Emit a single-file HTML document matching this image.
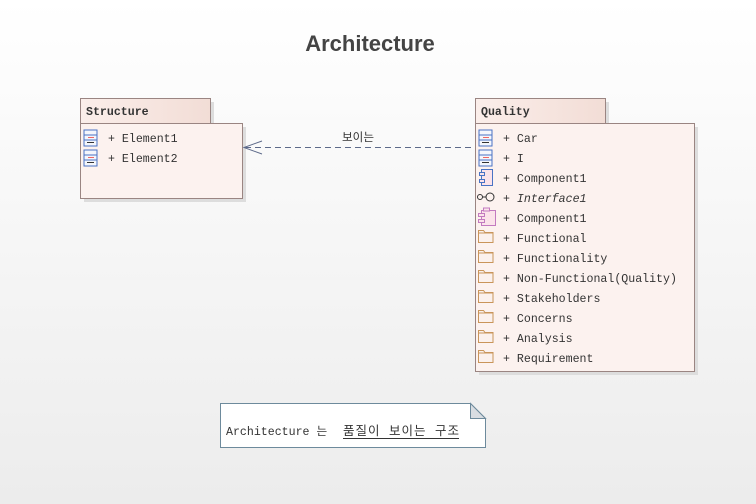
<!DOCTYPE html>
<html><head><meta charset="utf-8"><style>
html,body{margin:0;padding:0}
body{width:756px;height:504px;overflow:hidden}
svg{display:block}
text{font-family:"Liberation Mono","Noto Sans CJK KR",monospace;font-size:11.6px;fill:#333}
</style></head><body>
<svg width="756" height="504" xmlns="http://www.w3.org/2000/svg">
<defs>
<linearGradient id="bg" x1="0" y1="0" x2="0" y2="1"><stop offset="0" stop-color="#ffffff"/><stop offset="1" stop-color="#ececec"/></linearGradient>
<linearGradient id="tab" x1="0" y1="0" x2="1" y2="0"><stop offset="0" stop-color="#fbeeea"/><stop offset="1" stop-color="#f2ddd6"/></linearGradient>
<g id="cls"><rect x="0" y="0" width="13" height="16" fill="#f4f6fc" stroke="#4a73c4"/><line x1="0" y1="5" x2="13" y2="5" stroke="#4a73c4"/><line x1="0" y1="10" x2="13" y2="10" stroke="#4a73c4"/><line x1="4" y1="7.5" x2="10" y2="7.5" stroke="#e66"/><line x1="3" y1="12.5" x2="10" y2="12.5" stroke="#333"/></g>
<g id="fold"><path d="M0.5 2.5h5l1.5 2h8v10h-14.5z" fill="#fbf1ed" stroke="#c9955a"/><line x1="0.5" y1="5" x2="15" y2="5" stroke="#c9955a"/></g>
</defs>
<rect width="756" height="504" fill="url(#bg)"/>
<text x="370" y="51" text-anchor="middle" style="font-family:'Liberation Sans',sans-serif;font-size:22px;font-weight:bold;fill:#444">Architecture</text>

<!-- Structure -->
<rect x="84" y="102" width="130" height="25" fill="#ddd"/>
<rect x="84" y="127" width="162" height="75" fill="#ddd"/>
<rect x="80.5" y="98.5" width="130" height="25" fill="url(#tab)" stroke="#9a8582"/>
<rect x="80.5" y="123.5" width="162" height="75" fill="#fcf2ef" stroke="#9a8582"/>
<text x="86" y="115" style="font-weight:bold">Structure</text>
<use href="#cls" x="84" y="130"/><text x="108" y="142">+ Element1</text>
<use href="#cls" x="84" y="150"/><text x="108" y="162">+ Element2</text>

<!-- Quality -->
<rect x="479" y="102" width="130" height="25" fill="#ddd"/>
<rect x="479" y="127" width="219" height="248" fill="#ddd"/>
<rect x="475.5" y="98.5" width="130" height="25" fill="url(#tab)" stroke="#9a8582"/>
<rect x="475.5" y="123.5" width="219" height="248" fill="#fcf2ef" stroke="#9a8582"/>
<text x="481" y="115" style="font-weight:bold">Quality</text>
<use href="#cls" x="479" y="130"/><text x="503" y="142">+ Car</text>
<use href="#cls" x="479" y="150"/><text x="503" y="162">+ I</text>
<rect x="481.5" y="169.5" width="11" height="16" fill="#fbe3ea" stroke="#4a73c4"/><rect x="479.5" y="172.5" width="5" height="3" fill="#fbe3ea" stroke="#4a73c4"/><rect x="479.5" y="179.5" width="5" height="3" fill="#fbe3ea" stroke="#4a73c4"/>
<text x="503" y="182">+ Component1</text>
<circle cx="480" cy="197" r="2.5" fill="none" stroke="#333"/><line x1="482.5" y1="197" x2="486" y2="197" stroke="#333"/><circle cx="490" cy="197" r="4" fill="none" stroke="#333"/>
<text x="503" y="202" style="font-style:italic">+ Interface1</text>
<rect x="481.5" y="210.5" width="14" height="15" fill="#fbe3ea" stroke="#c27ac0"/><rect x="483.5" y="208" width="6" height="3" fill="#fbe3ea" stroke="#c27ac0"/><rect x="478.5" y="213.5" width="6" height="3" fill="#fbe3ea" stroke="#c27ac0"/><rect x="478.5" y="219.5" width="6" height="3" fill="#fbe3ea" stroke="#c27ac0"/>
<text x="503" y="222">+ Component1</text>
<use href="#fold" x="478" y="228"/><text x="503" y="242">+ Functional</text>
<use href="#fold" x="478" y="248"/><text x="503" y="262">+ Functionality</text>
<use href="#fold" x="478" y="268"/><text x="503" y="282">+ Non-Functional(Quality)</text>
<use href="#fold" x="478" y="288"/><text x="503" y="302">+ Stakeholders</text>
<use href="#fold" x="478" y="308"/><text x="503" y="322">+ Concerns</text>
<use href="#fold" x="478" y="328"/><text x="503" y="342">+ Analysis</text>
<use href="#fold" x="478" y="348"/><text x="503" y="362">+ Requirement</text>

<!-- dependency -->
<line x1="245" y1="147.5" x2="475" y2="147.5" stroke="#5d6a8a" stroke-dasharray="6,4"/>
<path d="M262 141 L244 147.5 L262 154" fill="none" stroke="#5d6a8a"/>
<text x="358" y="141" text-anchor="middle">보이는</text>

<!-- note -->
<path d="M220.5 403.5 H470.5 L485.5 418.5 V447.5 H220.5 Z" fill="#fff" stroke="#6d8a9c"/>
<path d="M470.5 403.5 V418.5 H485.5 Z" fill="#d9dde2" stroke="#6d8a9c"/>
<text x="226" y="435">Architecture 는</text>
<text x="343" y="435" textLength="116" lengthAdjust="spacing" style="font-size:12.5px">품질이 보이는 구조</text>
<line x1="343" y1="438.5" x2="459" y2="438.5" stroke="#333"/>
</svg>
</body></html>
